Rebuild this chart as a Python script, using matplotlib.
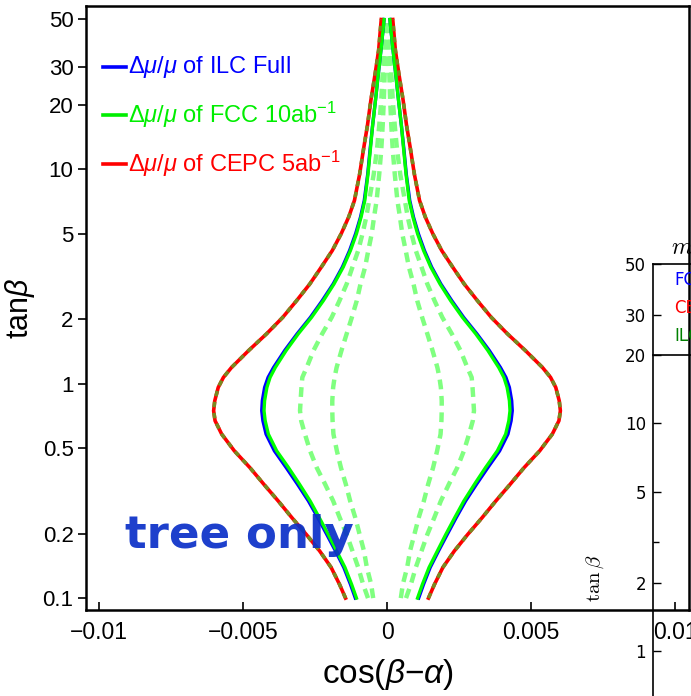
import numpy as np
import matplotlib
matplotlib.use("Agg")
import matplotlib.pyplot as plt
from matplotlib.lines import Line2D

plt.rcParams["font.family"] = ["Liberation Sans", "DejaVu Sans"]
plt.rcParams["mathtext.fontset"] = "custom"
plt.rcParams["mathtext.rm"] = "Liberation Sans"
plt.rcParams["mathtext.it"] = "Liberation Sans:italic"
plt.rcParams["mathtext.bf"] = "Liberation Sans:bold"

# tan(beta) sample points (shared by every contour)
tan_beta = [0.1, 0.116, 0.139, 0.166, 0.198, 0.237, 0.284, 0.34, 0.406, 0.486,
            0.582, 0.672, 0.748, 0.833, 0.961, 1.07, 1.19, 1.43, 1.71, 2.04,
            2.44, 2.92, 3.5, 4.18, 5.01, 5.99, 7.16, 9.5, 12.3, 16, 21, 28, 36, 50]

# |cos(beta-alpha)| reach of each contour at the tan(beta) points above
cepc_5ab = [0.00144, 0.00165, 0.00194, 0.00234, 0.0028, 0.0033, 0.00378, 0.00428,
            0.00476, 0.0053, 0.00574, 0.00597, 0.00602, 0.00598, 0.00586, 0.00568,
            0.0054, 0.0048, 0.00418, 0.00362, 0.00314, 0.00268, 0.00228, 0.0019,
            0.00159, 0.00133, 0.00113, 0.00095, 0.00082, 0.00068, 0.00056, 0.00041,
            0.00029, 0.0002]
fcc_10ab = [0.00106, 0.00123, 0.00146, 0.00175, 0.00204, 0.00235, 0.00267, 0.00304,
            0.00342, 0.00383, 0.00412, 0.00423, 0.00427, 0.00425, 0.00417, 0.00406,
            0.00388, 0.0035, 0.00308, 0.00262, 0.00221, 0.00184, 0.00152, 0.00127,
            0.00106, 0.0009, 0.00077, 0.00066, 0.00058, 0.0005, 0.0004, 0.0003,
            0.00021, 0.0001]
ilc_full = [0.0011, 0.00127, 0.0015, 0.00179, 0.00209, 0.0024, 0.00273, 0.00311,
            0.0035, 0.00391, 0.0042, 0.00431, 0.00435, 0.00433, 0.00425, 0.00413,
            0.00394, 0.00355, 0.00312, 0.00266, 0.00225, 0.00187, 0.00155, 0.0013,
            0.00109, 0.00092, 0.00079, 0.00067, 0.00059, 0.0005, 0.0004, 0.0003,
            0.00021, 0.0001]
fcc_dash_outer = [0.00066, 0.00083, 0.001, 0.0012, 0.0014, 0.00164, 0.00187, 0.00215,
                  0.00244, 0.00267, 0.00285, 0.00298, 0.00302, 0.003, 0.00297, 0.00294,
                  0.00279, 0.00255, 0.00225, 0.00192, 0.00165, 0.0014, 0.0012, 0.001,
                  0.00085, 0.00072, 0.00062, 0.00046, 0.00035, 0.00027, 0.0002, 0.00015,
                  0.00011, 0.00007]
fcc_dash_inner = [0.00048, 0.00055, 0.0007, 0.0008, 0.00095, 0.0011, 0.00128, 0.00143,
                  0.0016, 0.00174, 0.00186, 0.00189, 0.0019, 0.0019, 0.00187, 0.00182,
                  0.00175, 0.00158, 0.0014, 0.00122, 0.00105, 0.00092, 0.00076, 0.00065,
                  0.00053, 0.00045, 0.00036, 0.00027, 0.0002, 0.00015, 0.00011, 0.00008,
                  0.00006, 0.00004]

legend_labels = [r"$\Delta\mu/\mu$ of ILC Full",
                 r"$\Delta\mu/\mu$ of FCC 10ab$^{-1}$",
                 r"$\Delta\mu/\mu$ of CEPC 5ab$^{-1}$"]
legend_colors = ["#0000ff", "#00ee00", "#ff0000"]

x_ticks = [-0.01, -0.005, 0, 0.005, 0.01]
x_ticklabels = ["\u22120.01", "\u22120.005", "0", "0.005", "0.01"]
y_ticks = [0.1, 0.2, 0.5, 1, 2, 5, 10, 20, 30, 50]
y_ticklabels = ["0.1", "0.2", "0.5", "1", "2", "5", "10", "20", "30", "50"]

inset_ticks = [1, 2, 5, 10, 20, 30, 50]
inset_entries = ["FCC-ee", "CEPC", "ILC"]
inset_colors = ["#0000ff", "#ff0000", "#008000"]

W, H = 691, 696
fig = plt.figure(figsize=(W / 100, H / 100), dpi=100)
ax = fig.add_axes([86 / W, 1 - 610 / H, (689 - 86) / W, (610 - 6) / H])

tb = np.array(tan_beta)


def both_sides(reach, **kw):
    r = np.array(reach)
    kw.setdefault("solid_joinstyle", "round")
    kw.setdefault("dash_joinstyle", "round")
    ax.plot(-r, tb, **kw)
    ax.plot(r, tb, **kw)


# inner dashed FCC contours
both_sides(fcc_dash_outer, color="#80ff80", lw=3.2, dashes=(2.2, 1.5), zorder=2)
both_sides(fcc_dash_inner, color="#80ff80", lw=3.2, dashes=(2.2, 1.5), zorder=2)
# ILC and FCC solid contours
both_sides(ilc_full, color="#0000ff", lw=2.4, zorder=3)
both_sides(fcc_10ab, color="#00ff00", lw=2.4, zorder=4)
# CEPC contour with coincident dashed overlay
both_sides(cepc_5ab, color="#ff0000", lw=2.6, zorder=3)
both_sides(cepc_5ab, color="#788a20", lw=2.6, dashes=(1.5, 1.6), zorder=4)

ax.set_yscale("log")
ax.set_xlim(-(387 - 86) / 28800, (689 - 387) / 28800)
ax.set_ylim(0.088, 57.8)
ax.set_xticks(x_ticks)
ax.set_xticklabels(x_ticklabels)
ax.set_yticks(y_ticks)
ax.set_yticklabels(y_ticklabels)
ax.yaxis.set_minor_locator(matplotlib.ticker.NullLocator())
ax.tick_params(axis="x", direction="in", length=6, width=1.2, labelsize=16.5, pad=8)
ax.tick_params(axis="y", direction="out", length=6, width=1.2, labelsize=16, pad=3)
for s in ax.spines.values():
    s.set_linewidth(1.8)

ax.set_xlabel("cos($\\beta$\u2212$\\alpha$)", fontsize=24, labelpad=9)
ax.set_ylabel(r"tan$\beta$", fontsize=22, labelpad=4)

# legend entries
for i, (lab, col) in enumerate(zip(legend_labels, legend_colors)):
    ypix = [67, 115, 164][i]
    yf = (610 - ypix) / 604
    ax.add_line(Line2D([(103 - 86) / 603, (126 - 86) / 603], [yf, yf],
                       transform=ax.transAxes, color=col, lw=2.6))
    ax.text((128 - 86) / 603, yf, lab, transform=ax.transAxes, color=col,
            fontsize=17, va="center", ha="left")

ax.text((125 - 86) / 603, (610 - 548) / 604, "tree only", transform=ax.transAxes,
        fontsize=32.5, fontweight="bold", family="DejaVu Sans", color="#0a30c8",
        alpha=0.92, ha="left", va="baseline", zorder=6)

# neighbouring panel
ins_bottom = 796
ins = fig.add_axes([653 / W, 1 - ins_bottom / H, (900 - 653) / W, (ins_bottom - 264) / H],
                   facecolor="none")
ins.set_yscale("log")
ins.set_ylim(10 ** ((651 - ins_bottom) / 228), 50)
ins.set_xlim(0, 1)
ins.set_yticks(inset_ticks)
ins.set_yticklabels([str(v) for v in inset_ticks], family="DejaVu Sans")
ins.yaxis.set_minor_locator(matplotlib.ticker.FixedLocator([3]))
ins.yaxis.set_minor_formatter(matplotlib.ticker.NullFormatter())
ins.tick_params(axis="y", which="major", direction="in", length=6, width=1, labelsize=12, pad=5)
ins.tick_params(axis="y", which="minor", direction="in", length=4, width=1)
ins.set_xticks([])
for s in ins.spines.values():
    s.set_linewidth(1.2)

fig.add_artist(Line2D([653 / W, 1.0], [1 - 355 / H, 1 - 355 / H], color="black", lw=1.2))
for txt, col, yp in zip(inset_entries, inset_colors, [280, 308, 336]):
    fig.text(674 / W, 1 - yp / H, txt, color=col, fontsize=12, family="DejaVu Sans",
             va="center", ha="left")
fig.text(671 / W, 1 - 250 / H, r"$m_A=m_H$", fontsize=17, math_fontfamily="cm",
         va="center", ha="left")
fig.text(595 / W, 1 - 578 / H, r"$\tan\beta$", fontsize=15, math_fontfamily="cm",
         rotation=90, va="center", ha="center")

fig.savefig("out.png", dpi=100)
